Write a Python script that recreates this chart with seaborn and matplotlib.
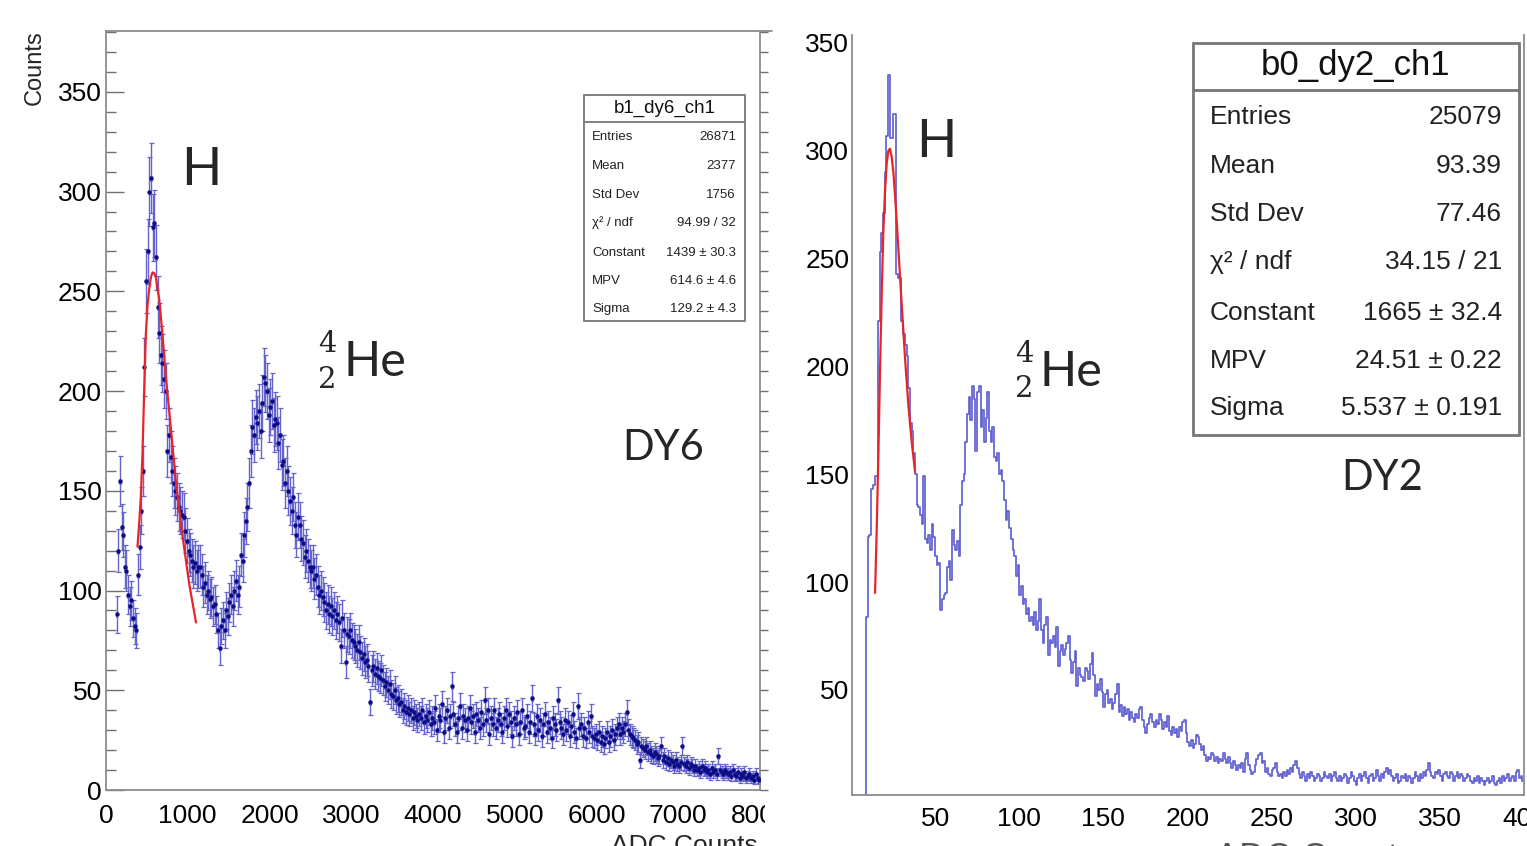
import numpy as np
import pandas as pd
import seaborn as sns
import matplotlib
matplotlib.use("Agg")
import matplotlib.pyplot as plt
from matplotlib.ticker import MultipleLocator
from matplotlib.patches import Rectangle

# ---------------- data: left panel (b1_dy6_ch1, DY6) ----------------
dy6_bin_width = 20
dy6_first_center = 130
dy6_counts = [
    # 130 - 450
    88, 120, 155, 132, 128, 112, 110, 98, 92, 95, 86, 82, 80, 108, 122, 140, 160,
    # 470 - 1450
    212, 255, 270, 300, 307, 282, 284, 267, 242, 229, 218, 214, 206, 200, 170, 178, 167, 160, 154, 150,
    147, 142, 140, 138, 137, 130, 125, 120, 118, 115, 112, 114, 110, 112, 112, 108, 102, 104, 98, 100,
    96, 97, 92, 93, 88, 80, 71, 82, 85, 80,
    # 1470 - 2490
    90, 87, 94, 98, 92, 100, 105, 98, 102, 118, 115, 128, 135, 142, 154, 170, 182, 178, 187, 184,
    190, 180, 194, 207, 204, 200, 188, 192, 195, 183, 186, 184, 174, 178, 163, 165, 154, 160, 150, 145,
    140, 147, 133, 128, 137, 133, 126, 124, 117, 120, 115, 112,
    # 2510 - 3990
    110, 112, 106, 108, 102, 98, 100, 97, 94, 90, 93, 88, 92, 87, 90, 85, 88, 84, 72, 86,
    80, 64, 78, 77, 80, 75, 74, 72, 70, 74, 69, 66, 68, 64, 65, 62, 44, 60, 62, 58,
    61, 57, 56, 60, 55, 52, 54, 50, 53, 48, 47, 50, 45, 46, 43, 44, 40, 42, 39, 41,
    38, 40, 36, 39, 37, 35, 38, 36, 40, 34, 37, 35, 39, 33, 36,
    # 4010 - 7990
    34, 41, 30, 37, 35, 43, 29, 36, 40, 31, 37, 52, 38, 33, 29, 36, 42, 31, 37, 35,
    30, 36, 41, 34, 37, 29, 38, 35, 31, 39, 33, 45, 35, 40, 28, 36, 33, 40, 31, 35,
    38, 33, 29, 36, 40, 32, 38, 34, 27, 36, 33, 39, 28, 34, 40, 31, 32, 37, 29, 34,
    46, 33, 28, 37, 30, 35, 27, 33, 38, 29, 34, 31, 26, 36, 33, 30, 45, 34, 31, 28,
    35, 30, 34, 27, 32, 38, 29, 26, 42, 31, 33, 27, 31, 26, 34, 29, 37, 27, 26, 28,
    25, 29, 24, 27, 23, 26, 29, 24, 27, 30, 25, 28, 31, 33, 28, 31, 29, 33, 39, 30,
    28, 27, 26, 25, 23, 24, 15, 22, 21, 20, 22, 19, 20, 18, 17, 19, 18, 16, 17, 22,
    15, 17, 14, 16, 13, 15, 14, 12, 15, 13, 12, 14, 22, 13, 12, 14, 11, 13, 12, 10,
    12, 10, 11, 9, 12, 10, 11, 9, 10, 8, 11, 9, 10, 8, 17, 10, 9, 8, 10, 9,
    8, 9, 7, 10, 8, 7, 9, 6, 8, 7, 9, 6, 7, 8, 6, 7, 5, 8, 6, 5,
]
dy6_fit_x = [385, 405, 426, 446, 467, 487, 508, 528, 549, 569, 590, 610, 651, 692, 733, 794, 856, 937, 1019, 1101]
dy6_fit_y = [122, 133, 147, 168, 200, 228, 243, 251, 257, 259.5, 259, 257, 246, 228, 207, 181, 154, 127, 103, 84]

# ---------------- data: right panel (b0_dy2_ch1, DY2) ----------------
dy2_range = (0, 400)
dy2_bin_width = 1
dy2_counts = [
    0, 0, 0, 0, 0, 0, 0, 0, 0, 84,                       # 0-9
    121, 122, 143, 145, 149, 149, 221, 253, 262, 271,    # 10-19
    290, 307, 335, 306, 306, 317, 317, 243, 241, 241,    # 20-29
    221, 215, 210, 205, 190, 174, 170, 160, 150, 136,    # 30-39
    135, 131, 127, 149, 120, 118, 122, 115, 127, 121,    # 40-49
    112, 108, 109, 87, 92, 94, 95, 107, 110, 101,        # 50-59
    124, 117, 115, 119, 112, 136, 147, 150, 165, 178,    # 60-69
    186, 175, 191, 185, 161, 188, 191, 172, 180, 165,    # 70-79
    176, 188, 170, 165, 172, 158, 156, 160, 150, 152,    # 80-89
    147, 138, 129, 133, 125, 120, 115, 112, 103, 108,    # 90-99
    94, 98, 90, 92, 85, 88, 82, 84, 80, 86,              # 100-109
    78, 82, 92, 78, 72, 80, 84, 66, 73, 72,              # 110-119
    75, 70, 79, 61, 68, 71, 66, 69, 72, 75,              # 120-129
    64, 58, 63, 68, 52, 60, 57, 56, 54, 60,              # 130-139
    59, 55, 62, 67, 57, 47, 53, 50, 55, 49,              # 140-149
    42, 48, 50, 44, 46, 41, 44, 48, 53, 40,              # 150-159
    43, 38, 42, 39, 41, 36, 40, 37, 35, 39,              # 160-169
    37, 41, 42, 36, 33, 30, 34, 37, 39, 35,              # 170-179
    33, 36, 34, 39, 36, 32, 35, 33, 38, 31,              # 180-189
    29, 33, 30, 32, 28, 33, 31, 35, 36, 30,              # 190-199
    26, 24, 27, 23, 25, 29, 28, 25, 22, 24,              # 200-209
    20, 17, 19, 18, 21, 20, 17, 19, 16, 18,              # 210-219
    17, 21, 18, 16, 19, 16, 14, 17, 15, 13,              # 220-229
    15, 14, 16, 12, 18, 21, 15, 13, 11, 12,              # 230-239
    15, 18, 20, 21, 16, 17, 12, 14, 11, 10,              # 240-249
    13, 14, 16, 12, 10, 11, 9, 12, 10, 13,               # 250-259
    11, 14, 12, 15, 17, 14, 11, 9, 12, 10,               # 260-269
    8, 11, 9, 12, 10, 8, 9, 11, 10, 8,                   # 270-279
    9, 12, 10, 9, 11, 8, 10, 12, 9, 8,                   # 280-289
    10, 8, 9, 11, 10, 7, 9, 12, 10, 8,                   # 290-299
    6, 9, 11, 8, 10, 12, 9, 7, 10, 11,                   # 300-309
    8, 9, 13, 10, 8, 11, 9, 12, 14, 11,                  # 310-319
    13, 10, 8, 9, 11, 7, 8, 10, 9, 11,                   # 320-329
    8, 10, 9, 7, 9, 12, 10, 8, 11, 9,                    # 330-339
    12, 10, 13, 16, 12, 10, 9, 12, 11, 13,               # 340-349
    10, 8, 11, 12, 10, 9, 12, 11, 8, 10,                 # 350-359
    12, 9, 11, 10, 8, 9, 11, 10, 8, 7,                   # 360-369
    9, 8, 10, 7, 9, 8, 6, 8, 9, 7,                       # 370-379
    8, 10, 7, 6, 8, 9, 7, 10, 8, 9,                      # 380-389
    11, 8, 9, 10, 8, 12, 13, 9, 10, 8,                   # 390-399
]
dy2_fit_x = [14.3, 15.3, 16.3, 17.3, 18.3, 19.2, 20.2, 21.2, 22.2, 23.2, 24.2, 25.2, 26.2, 27.2, 28.2, 30.2, 32.2, 34.1, 36.1, 38.1]
dy2_fit_y = [95, 125, 160, 200, 235, 262, 281, 294, 300, 301, 297, 290, 279, 267, 254, 228, 203, 182, 165, 151]

# ---------------- stat boxes ----------------
stat_labels = ["Entries", "Mean", "Std Dev", "χ² / ndf", "Constant", "MPV", "Sigma"]
dy6_title = "b1_dy6_ch1"
dy6_stats = ["26871", "2377", "1756", "94.99 / 32", "1439 ± 30.3", "614.6 ± 4.6", "129.2 ± 4.3"]
dy2_title = "b0_dy2_ch1"
dy2_stats = ["25079", "93.39", "77.46", "34.15 / 21", "1665 ± 32.4", "24.51 ± 0.22", "5.537 ± 0.191"]

# ---------------- figure ----------------
sns.set_theme(style="white")
plt.rcParams["font.family"] = ["Liberation Sans", "DejaVu Sans"]

W, H = 1527, 846
fig = plt.figure(figsize=(W / 100, H / 100), dpi=100)
fig.patch.set_facecolor("white")


def rect(l, r, t, b):
    return [l / W, (H - b) / H, (r - l) / W, (b - t) / H]


axL = fig.add_axes(rect(106, 760, 31, 790))
axR = fig.add_axes(rect(852, 1524, 35, 795))

frame_col = "#8c8c8c"
for ax in (axL, axR):
    ax.set_facecolor("white")
    for s in ax.spines.values():
        s.set_color(frame_col)
        s.set_linewidth(1.3)
        s.set_visible(True)
axR.spines["top"].set_visible(False)

# left: points with error bars
n6 = len(dy6_counts)
dy6_x = dy6_first_center + dy6_bin_width * np.arange(n6)
df6 = pd.DataFrame({"adc": dy6_x, "counts": np.array(dy6_counts, dtype=float)})
axL.errorbar(df6["adc"], df6["counts"], yerr=np.sqrt(df6["counts"]), xerr=dy6_bin_width / 2,
             fmt="none", ecolor="#6464cc", elinewidth=1.0, capsize=1.8, capthick=0.9, zorder=2)
sns.scatterplot(data=df6, x="adc", y="counts", ax=axL, s=10, color="#0c0c86",
                edgecolor=None, linewidth=0, zorder=3)
sns.lineplot(x=dy6_fit_x, y=dy6_fit_y, ax=axL, sort=False, estimator=None,
             color="#e8242a", linewidth=1.6, zorder=4)

# right: step histogram
n2 = len(dy2_counts)
df2 = pd.DataFrame({"adc": dy2_range[0] + dy2_bin_width * (np.arange(n2) + 0.5),
                    "counts": np.array(dy2_counts, dtype=float)})
sns.histplot(data=df2, x="adc", weights="counts", binwidth=dy2_bin_width, binrange=dy2_range,
             element="step", fill=False, color="#6262d2", linewidth=1.25, ax=axR)
sns.lineplot(x=dy2_fit_x, y=dy2_fit_y, ax=axR, sort=False, estimator=None,
             color="#e8242a", linewidth=1.6, zorder=4)

axL.set_xlim(0, 8000)
axL.set_ylim(0, 380.5)
axR.set_xlim(0.6, 400)
axR.set_ylim(1.3, 353.7)

axL.xaxis.set_major_locator(MultipleLocator(1000))
axL.xaxis.set_minor_locator(MultipleLocator(200))
axL.yaxis.set_major_locator(MultipleLocator(50))
axL.yaxis.set_minor_locator(MultipleLocator(10))
axR.xaxis.set_major_locator(MultipleLocator(50))
axR.xaxis.set_minor_locator(MultipleLocator(10))
axR.yaxis.set_major_locator(MultipleLocator(50))
axR.yaxis.set_minor_locator(MultipleLocator(10))

tick_col = "#707070"
for ax in (axL, axR):
    ax.set_xlabel("")
    ax.set_ylabel("")
    ax.tick_params(which="both", direction="in", color=tick_col, width=1.0,
                   labelsize=19, labelcolor="black", top=False, right=False)
    ax.tick_params(axis="x", which="major", length=16)
    ax.tick_params(axis="x", which="minor", length=8.5)
    ax.tick_params(axis="y", which="major", length=13, pad=3)
    ax.tick_params(axis="y", which="minor", length=7)
    ax.grid(False)
axL.tick_params(axis="x", which="major", pad=10)
axR.tick_params(axis="x", which="major", pad=8.5)
axR.tick_params(axis="y", which="major", pad=2, length=14.5)

# outward ticks on right edge of left panel
axL2 = axL.twinx()
axL2.set_ylim(axL.get_ylim())
axL2.yaxis.set_major_locator(MultipleLocator(50))
axL2.yaxis.set_minor_locator(MultipleLocator(10))
axL2.tick_params(axis="y", which="both", direction="out", color=tick_col, width=1.0,
                 labelright=False, length=6)
for s in axL2.spines.values():
    s.set_visible(False)
axL2.grid(False)

# overlay in pixel coordinates for annotations and stat boxes
ov = fig.add_axes([0, 0, 1, 1], zorder=10)
ov.set_xlim(0, W)
ov.set_ylim(H, 0)
ov.axis("off")
ov.patch.set_alpha(0)

# top frame of the left pad extends slightly past the axis
ov.plot([760, 772], [31, 31], color=frame_col, linewidth=1.3)
# clip the last left tick label like the reference
ov.add_patch(Rectangle((765, 797), 40, 36, facecolor="white", edgecolor="none"))

# axis titles
ov.text(35, 30, "Counts", rotation=90, ha="center", va="top", fontsize=17)
ov.text(758, 834, "ADC Counts", ha="right", va="top", fontsize=19)
ov.text(1416, 842, "ADC Counts", ha="right", va="top", fontsize=26, color="#555555")


def stat_box(x0, x1, y0, y1, ysep, title, title_y, title_size, rows_y, lab_x, val_x, size, values, lw):
    ov.add_patch(Rectangle((x0, y0), x1 - x0, y1 - y0, facecolor="white", edgecolor="#777777", linewidth=lw))
    ov.plot([x0, x1], [ysep, ysep], color="#777777", linewidth=lw)
    ov.text((x0 + x1) / 2, title_y, title, ha="center", va="center", fontsize=title_size, color="#111111")
    for lab, val, yy in zip(stat_labels, values, rows_y):
        ov.text(lab_x, yy, lab, ha="left", va="center", fontsize=size, color="#222222")
        ov.text(val_x, yy, val, ha="right", va="center", fontsize=size, color="#222222")


stat_box(584, 745, 95, 321, 122, dy6_title, 108, 13.5,
         [137, 166, 195, 223, 253, 281, 309], 592, 736, 9.5, dy6_stats, 1.3)
stat_box(1193, 1519, 43, 435, 90, dy2_title, 66, 25,
         [117, 166, 214, 262, 313, 361, 408], 1210, 1502, 19, dy2_stats, 2.0)

# particle annotations
ann_font = ["Lato", "DejaVu Sans"]
num_font = ["DejaVu Serif"]
ov.text(201, 185, "H", ha="center", va="baseline", fontsize=38, family=ann_font)
ov.text(663, 460, "DY6", ha="center", va="baseline", fontsize=30, family=ann_font)
ov.text(343, 376, "He", ha="left", va="baseline", fontsize=35, family=ann_font)
ov.text(318, 352, "4", ha="left", va="baseline", fontsize=21, family=num_font)
ov.text(318, 388, "2", ha="left", va="baseline", fontsize=21, family=num_font)

ov.text(936, 157, "H", ha="center", va="baseline", fontsize=38, family=ann_font)
ov.text(1382, 490, "DY2", ha="center", va="baseline", fontsize=30, family=ann_font)
ov.text(1040, 386, "He", ha="left", va="baseline", fontsize=35, family=ann_font)
ov.text(1015, 362, "4", ha="left", va="baseline", fontsize=21, family=num_font)
ov.text(1015, 397, "2", ha="left", va="baseline", fontsize=21, family=num_font)

fig.savefig("out.png", dpi=100, facecolor="white")
